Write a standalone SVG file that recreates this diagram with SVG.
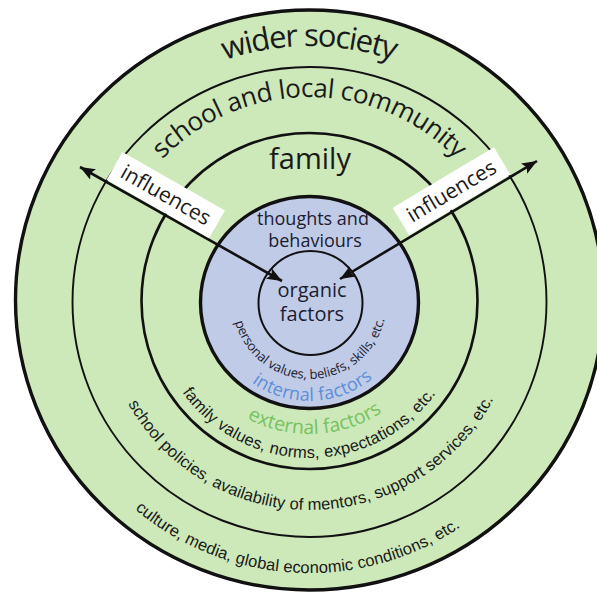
<svg xmlns="http://www.w3.org/2000/svg" width="597" height="597" viewBox="0 0 597 597">
<style>
.ring{fill:#cde8b9;stroke:#111;}
.inner{fill:#c0cbe7;stroke:#111;}
.title{font-family:"Open Sans","Noto Sans",sans-serif;fill:#1a1a1a;}
.desc{font-family:"Liberation Sans",Arial,sans-serif;fill:#1a1a1a;font-size:16.5px;}
.conn{stroke:#111;stroke-width:2.6;fill:none;}
.lbl{fill:#fff;}
</style>
<defs>
<marker id="ah" markerUnits="userSpaceOnUse" markerWidth="16" markerHeight="12" refX="15" refY="6" orient="auto-start-reverse">
<path d="M0,0 L15,6 L0,12 L3,6 z" fill="#111"/>
</marker>
<path id="pPersonal" d="M232.92,310.05 A77,77 0 0 0 386.31,307.37"/>
<path id="pInternal" d="M211.24,314.07 A99,99 0 0 0 408.36,307.18"/>
<path id="pExternal" d="M178.66,319.46 A132,132 0 0 0 441.38,307.53"/>
<path id="pFamilyV" d="M154.02,314.78 A156,156 0 0 0 464.83,316.41"/>
<path id="pSchoolP" d="M102.55,322.84 A208,208 0 0 0 516.93,317.41"/>
<path id="pCulture" d="M38.65,310.99 A271,271 0 0 0 577.80,340.18"/>
<path id="pWider" d="M54.48,279.69 A256,256 0 0 1 564.52,279.69"/>
<path id="pSchool" d="M105.28,284.13 A205,205 0 0 1 513.72,284.13"/>
</defs>
<rect width="597" height="597" fill="#fff"/>

<g id="wider-society">
<ellipse class="ring" cx="309.5" cy="300" rx="294" ry="290" stroke-width="3.4"/>
<text class="title" font-size="31"><textPath href="#pWider" startOffset="50%" text-anchor="middle" textLength="172">wider society</textPath></text>
<text class="desc"><textPath href="#pCulture" startOffset="50%" text-anchor="middle" textLength="350">culture, media, global economic conditions, etc.</textPath></text>
</g>

<g id="school-community">
<ellipse class="ring" cx="309.5" cy="302" rx="237" ry="235" stroke-width="1.9"/>
<text class="title" font-size="26"><textPath href="#pSchool" startOffset="50%" text-anchor="middle" textLength="328">school and local community</textPath></text>
<text class="desc"><textPath href="#pSchoolP" startOffset="50%" text-anchor="middle" textLength="446">school policies, availability of mentors, support services, etc.</textPath></text>
</g>

<g id="family">
<circle class="ring" cx="309.5" cy="301" r="168" stroke-width="2.6"/>
<text class="title" font-size="29" x="310" y="169" text-anchor="middle">family</text>
<text class="desc"><textPath href="#pFamilyV" startOffset="50%" text-anchor="middle" textLength="296">family values, norms, expectations, etc.</textPath></text>
<text class="title" font-size="19.5" fill="#74c35e" style="fill:#74c35e"><textPath href="#pExternal" startOffset="50%" text-anchor="middle" textLength="142">external factors</textPath></text>
</g>

<g id="thoughts-behaviours">
<ellipse class="inner" cx="309.5" cy="302.5" rx="109" ry="106" stroke-width="3.4"/>
<text class="title" font-size="18" x="313" y="225" text-anchor="middle" style="fill:#1c1c30">thoughts and</text>
<text class="title" font-size="18" x="315" y="247" text-anchor="middle" style="fill:#1c1c30">behaviours</text>
<text class="title" font-size="13" style="fill:#1c1c30"><textPath href="#pPersonal" startOffset="50%" text-anchor="middle" textLength="204">personal values, beliefs, skills, etc.</textPath></text>
<text class="title" font-size="18" style="fill:#5b8ed8"><textPath href="#pInternal" startOffset="50%" text-anchor="middle" textLength="130">internal factors</textPath></text>
</g>

<g id="organic-factors">
<circle class="inner" cx="310.5" cy="303" r="52" stroke-width="2"/>
<text class="title" font-size="20" x="312" y="297" text-anchor="middle" style="fill:#1c1c30">organic</text>
<text class="title" font-size="20" x="312" y="321" text-anchor="middle" style="fill:#1c1c30">factors</text>
</g>

<g id="connectors">
<line class="conn" x1="80" y1="167" x2="282" y2="281" marker-start="url(#ah)" marker-end="url(#ah)"/>
<line class="conn" x1="537" y1="161" x2="340" y2="279" marker-start="url(#ah)" marker-end="url(#ah)"/>
</g>

<g id="label-left" transform="translate(165.8,195.2) rotate(29.7)">
<rect class="lbl" x="-59" y="-16" width="118" height="32"/>
<text class="title" font-size="21" x="0" y="7" text-anchor="middle">influences</text>
</g>
<g id="label-right" transform="translate(451.5,191.2) rotate(-30.9)">
<rect class="lbl" x="-59" y="-16" width="118" height="32"/>
<text class="title" font-size="21" x="0" y="7" text-anchor="middle">influences</text>
</g>
</svg>
